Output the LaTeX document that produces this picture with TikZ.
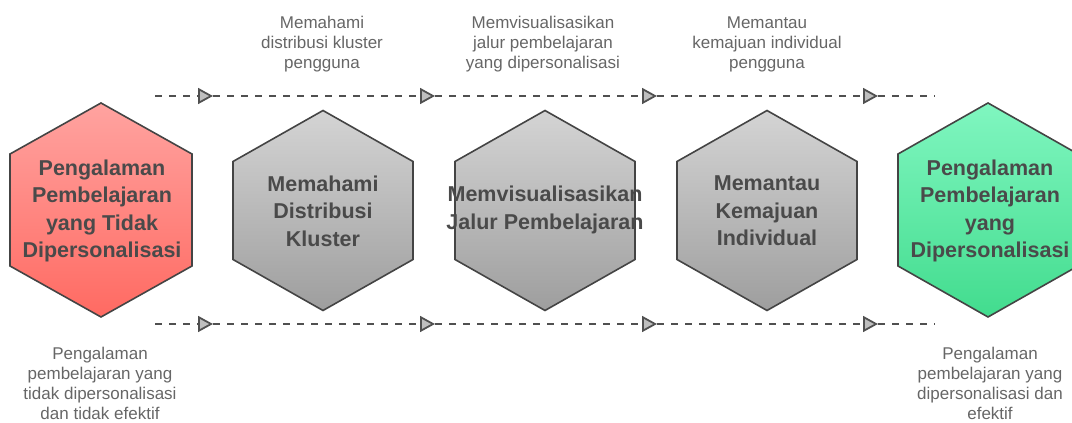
\documentclass[tikz,border=0pt]{standalone}
\usepackage{fontspec}
\setmainfont{Liberation Sans}
\usetikzlibrary{arrows.meta}
\definecolor{redtop}{RGB}{255,163,160}
\definecolor{redbot}{RGB}{255,106,98}
\definecolor{graytop}{RGB}{212,212,212}
\definecolor{graybot}{RGB}{158,158,158}
\definecolor{greentop}{RGB}{128,246,192}
\definecolor{greenbot}{RGB}{66,220,142}
\definecolor{hexborder}{RGB}{68,68,68}
\definecolor{hextextc}{RGB}{74,74,74}
\definecolor{labelc}{RGB}{102,102,102}
\definecolor{flowc}{RGB}{80,80,80}
\definecolor{tipfill}{RGB}{190,190,190}
\newcommand\hexshape[6]{%
  \path[#1] (#2,#3+#5) -- (#2+#4,#3+#6) -- (#2+#4,#3-#6) -- (#2,#3-#5)
    -- (#2-#4,#3-#6) -- (#2-#4,#3+#6) -- cycle;}
\begin{document}
\begin{tikzpicture}[x=1pt,y=1pt,
  hexline/.style={draw=hexborder, line width=1.6pt, line join=miter},
  redhex/.style={hexline, top color=redtop, bottom color=redbot},
  grayhex/.style={hexline, top color=graytop, bottom color=graybot},
  greenhex/.style={hexline, top color=greentop, bottom color=greenbot},
  hextext/.style={align=center, text=hextextc, font=\bfseries\fontsize{21.5}{27.5}\selectfont, inner sep=0pt},
  lbl/.style={align=center, text=labelc, font=\fontsize{17}{20}\selectfont, inner sep=0pt},
  flow/.style={draw=flowc, line width=1.9pt, dash pattern=on 7pt off 7pt,
    -{Triangle[length=15pt,width=16pt,fill=tipfill,line width=1.8pt]}},
  flowend/.style={draw=flowc, line width=1.9pt, dash pattern=on 7pt off 7pt}
]
\clip (0,0) rectangle (1072,423);
% hexagons
\hexshape{redhex}{101}{213}{91}{107}{56}
\hexshape{grayhex}{323}{212.5}{90}{100}{49}
\hexshape{grayhex}{545}{212.5}{90}{100}{49}
\hexshape{grayhex}{767}{212.5}{90}{100}{49}
\hexshape{greenhex}{988}{213}{90}{107}{56}
% hexagon texts
\node[hextext] (h1) at (102,212) {Pengalaman\\Pembelajaran\\yang Tidak\\Dipersonalisasi};
\node[hextext] (h2) at (323,212) {Memahami\\Distribusi\\Kluster};
\node[hextext] (h3) at (545,213) {Memvisualisasikan\\Jalur Pembelajaran};
\node[hextext] (h4) at (767,212) {Memantau\\Kemajuan\\Individual};
\node[hextext] (h5) at (990,212) {Pengalaman\\Pembelajaran\\yang\\Dipersonalisasi};
% top labels
\node[lbl] (l2) at (322,379) {Memahami\\distribusi kluster\\pengguna};
\node[lbl] (l3) at (543,379) {Memvisualisasikan\\jalur pembelajaran\\yang dipersonalisasi};
\node[lbl] (l4) at (767,379) {Memantau\\kemajuan individual\\pengguna};
% bottom labels
\node[lbl] (b1) at (100,40) {Pengalaman\\pembelajaran yang\\tidak dipersonalisasi\\dan tidak efektif};
\node[lbl] (b5) at (990,40) {Pengalaman\\pembelajaran yang\\dipersonalisasi dan\\efektif};
% flow coordinates (top)
\coordinate (ts) at (155,327);
\coordinate (ta1) at (213,327);
\coordinate (ta2) at (435,327);
\coordinate (ta3) at (657,327);
\coordinate (ta4) at (878,327);
\coordinate (te) at (935,327);
% flow coordinates (bottom)
\coordinate (bs) at (155,99);
\coordinate (ba1) at (213,99);
\coordinate (ba2) at (435,99);
\coordinate (ba3) at (657,99);
\coordinate (ba4) at (878,99);
\coordinate (be) at (935,99);
\draw[flow] (ts) -- (ta1);
\draw[flow] (ta1) -- (ta2);
\draw[flow] (ta2) -- (ta3);
\draw[flow] (ta3) -- (ta4);
\draw[flowend] (ta4) -- (te);
\draw[flow] (bs) -- (ba1);
\draw[flow] (ba1) -- (ba2);
\draw[flow] (ba2) -- (ba3);
\draw[flow] (ba3) -- (ba4);
\draw[flowend] (ba4) -- (be);
\end{tikzpicture}
\end{document}
